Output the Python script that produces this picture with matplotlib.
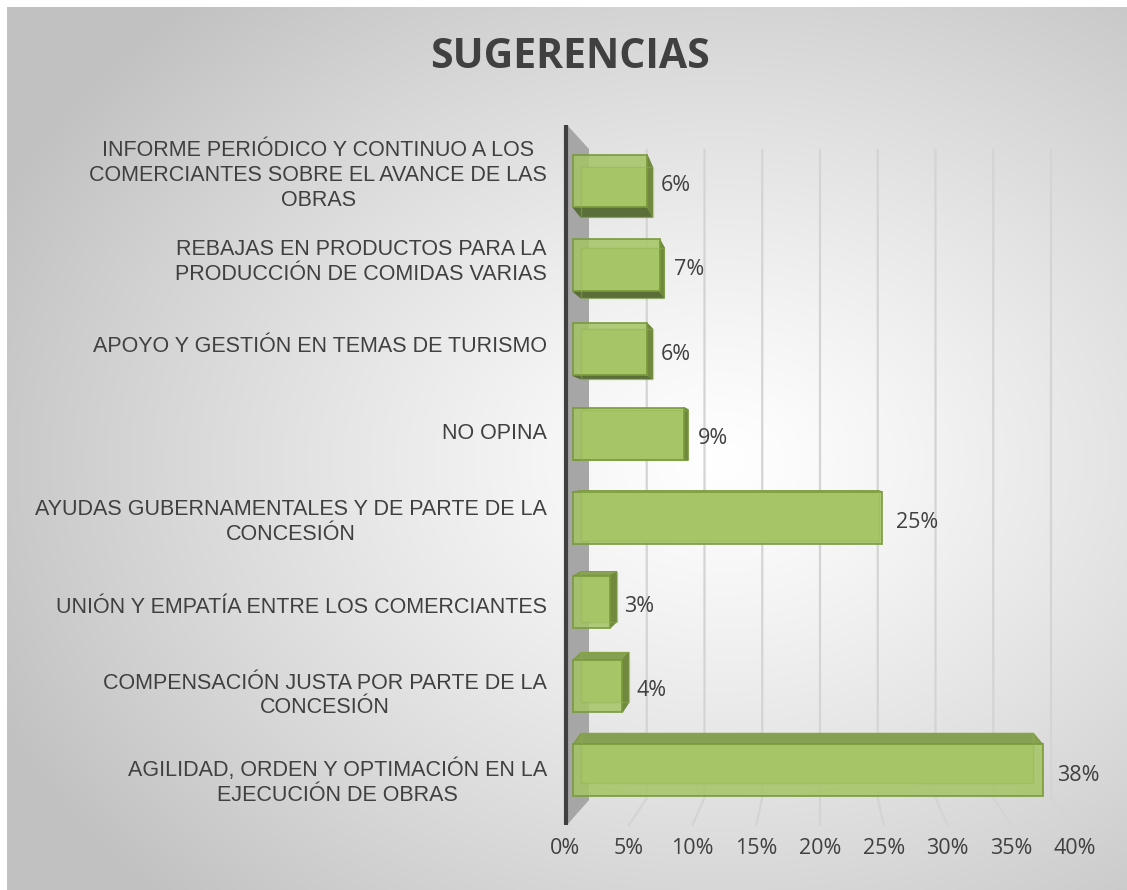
import numpy as np
import matplotlib
matplotlib.use("Agg")
import matplotlib.pyplot as plt
from matplotlib.patches import Polygon

# ---------------- data ----------------
categories = [
    "INFORME PERIÓDICO Y CONTINUO A LOS\nCOMERCIANTES SOBRE EL AVANCE DE LAS\nOBRAS",
    "REBAJAS EN PRODUCTOS PARA LA\nPRODUCCIÓN DE COMIDAS VARIAS",
    "APOYO Y GESTIÓN EN TEMAS DE TURISMO",
    "NO OPINA",
    "AYUDAS GUBERNAMENTALES Y DE PARTE DE LA\nCONCESIÓN",
    "UNIÓN Y EMPATÍA ENTRE LOS COMERCIANTES",
    "COMPENSACIÓN JUSTA POR PARTE DE LA\nCONCESIÓN",
    "AGILIDAD, ORDEN Y OPTIMACIÓN EN LA\nEJECUCIÓN DE OBRAS",
]
values = [6, 7, 6, 9, 25, 3, 4, 38]
value_labels = ["6%", "7%", "6%", "9%", "25%", "3%", "4%", "38%"]
x_ticks = [0, 5, 10, 15, 20, 25, 30, 35, 40]
x_tick_labels = ["0%", "5%", "10%", "15%", "20%", "25%", "30%", "35%", "40%"]
title = "SUGERENCIAS"

# ---------------- layout (pixels) ----------------
W, H = 1127, 890
fig = plt.figure(figsize=(W / 100, H / 100), dpi=100)
fig.patch.set_facecolor("white")

# background radial gradient panel
bg = fig.add_axes([7 / W, 0, 1 - 7 / W, (H - 7) / H], zorder=-10)
gx = np.arange(7, W)
gy = np.arange(7, H)
GX, GY = np.meshgrid(gx, gy)
r = np.sqrt(((GX - 720) / 800.0) ** 2 + ((GY - 460) / 620.0) ** 2)
val = 255 - 62 * np.clip(r, 0, 1) ** 1.2
img = np.dstack([val, val, val]).astype(np.uint8)
bg.imshow(img, aspect="auto", interpolation="bilinear")
bg.axis("off")

# main axes: front plane of bars
X0_PX, PX_PER = 573.0, 12.36       # x pixel of 0% and px per percent (bar front plane)
ROW0, ROW_STEP = 181.0, 84.2       # pixel y of first row centre and row spacing
AX_L, AX_R, AX_T, AX_B = 545, 1090, 110, 840
box = [AX_L / W, 1 - AX_B / H, (AX_R - AX_L) / W, (AX_B - AX_T) / H]

def dx(px):
    return (px - X0_PX) / PX_PER

def dy(py):
    return (py - ROW0) / ROW_STEP

# label axes (category labels spread slightly by the perspective)
LROW0, LROW_STEP = 171.0, 86.7
axl = fig.add_axes(box)
axl.set_xlim(0, 1)
axl.set_ylim((AX_B - LROW0) / LROW_STEP, (AX_T - LROW0) / LROW_STEP)
axl.patch.set_alpha(0)
for s in axl.spines.values():
    s.set_visible(False)
axl.set_xticks([])
axl.set_yticks(range(len(categories)))
axl.set_yticklabels(categories, fontsize=15.5, family="Liberation Sans", color="#404040",
                    linespacing=1.23)
for lab in axl.get_yticklabels():
    lab.set_multialignment("center")
axl.tick_params(axis="y", length=0, pad=-1.5)

ax = fig.add_axes(box)
ax.set_xlim(dx(AX_L), dx(AX_R))
ax.set_ylim(dy(AX_B), dy(AX_T))
ax.patch.set_alpha(0)
for s in ax.spines.values():
    s.set_visible(False)
ax.set_xticks([])
ax.set_yticks([])

# --- wall (left) ---
wall = Polygon([(dx(567), dy(125)), (dx(589), dy(149)), (dx(589), dy(800)), (dx(567), dy(825))],
               closed=True, facecolor="#A6A6A6", edgecolor="none", zorder=1)
ax.add_patch(wall)
ax.plot([dx(565.5), dx(565.5)], [dy(125), dy(825)], color="#404040", lw=3, zorder=1.5,
        solid_capstyle="butt")

# --- gridlines: back wall verticals + slanted floor lines ---
BACK0, BACK_PER = 589.0, 11.55
FRONT0, FRONT_PER = 565.0, 12.75
for t in x_ticks[1:]:
    xb = dx(BACK0 + t * BACK_PER)
    xf = dx(FRONT0 + t * FRONT_PER)
    ax.plot([xb, xb, xf], [dy(150), dy(798), dy(825)], color="#D4D4D4", lw=1.6, zorder=0.5)

# --- bars with pseudo 3D depth ---
BH = 0.618
VX, VY = dx(792), dy(463)
KX, KY = 0.037, 0.039

def back(x, y):
    return x + KX * (VX - x), y + KY * (VY - y)

front_col = "#A4C463"
edge_col = "#7A9A3C"
for i, v in enumerate(values):
    y0, y1 = i - BH / 2, i + BH / 2
    bl0 = back(0, y0); br0 = back(v, y0); br1 = back(v, y1); bl1 = back(0, y1)
    # back face
    ax.add_patch(Polygon([bl0, br0, br1, bl1], closed=True, facecolor="#B5D07E",
                         edgecolor="none", zorder=2))
    # bottom face (bars above eye level)
    if br1[1] > y1:
        ax.add_patch(Polygon([(0, y1), (v, y1), br1, bl1], closed=True, facecolor="#5A6E3A",
                             edgecolor="#5A6E3A", lw=1.0, zorder=3))
    # top face (bars below eye level)
    if br0[1] < y0:
        ax.add_patch(Polygon([(0, y0), (v, y0), br0, bl0], closed=True, facecolor="#85A052",
                             edgecolor="#7A9A3C", lw=0.8, zorder=3))
    # right face
    if br0[0] > v:
        ax.add_patch(Polygon([(v, y0), br0, br1, (v, y1)], closed=True, facecolor="#71893F",
                             edgecolor="#71893F", lw=0.8, zorder=3))
    # back edges seen through the glass
    ax.add_patch(Polygon([bl0, br0, br1, bl1], closed=True, facecolor="none",
                         edgecolor="#93B254", lw=1.0, alpha=0.45, zorder=5))

ax.barh(range(len(values)), values, height=BH, left=0, color=front_col, alpha=0.85,
        edgecolor=edge_col, linewidth=1.4, zorder=4)

# value labels
for i, (v, lab) in enumerate(zip(values, value_labels)):
    ax.text(v + dx(X0_PX + 14), i + 0.12, lab, fontsize=15.5, family="Open Sans",
            color="#404040", ha="left", va="baseline", zorder=6)

# floor axis with percentage tick labels
axf = fig.add_axes([FRONT0 / W, 1 - 825 / H, 40 * FRONT_PER / W, 0.001])
axf.set_xlim(0, 40)
axf.set_xticks(x_ticks)
axf.set_xticklabels(x_tick_labels, fontsize=15.5, family="Open Sans", color="#404040")
axf.tick_params(axis="x", length=0, pad=9.5)
axf.set_yticks([])
axf.patch.set_alpha(0)
for s in axf.spines.values():
    s.set_visible(False)

# title
fig.text(570 / W, 1 - 68 / H, title, fontsize=29.5, fontweight="bold", family="Open Sans",
         color="#404040", ha="center", va="baseline")

fig.savefig("out.png", dpi=100)
